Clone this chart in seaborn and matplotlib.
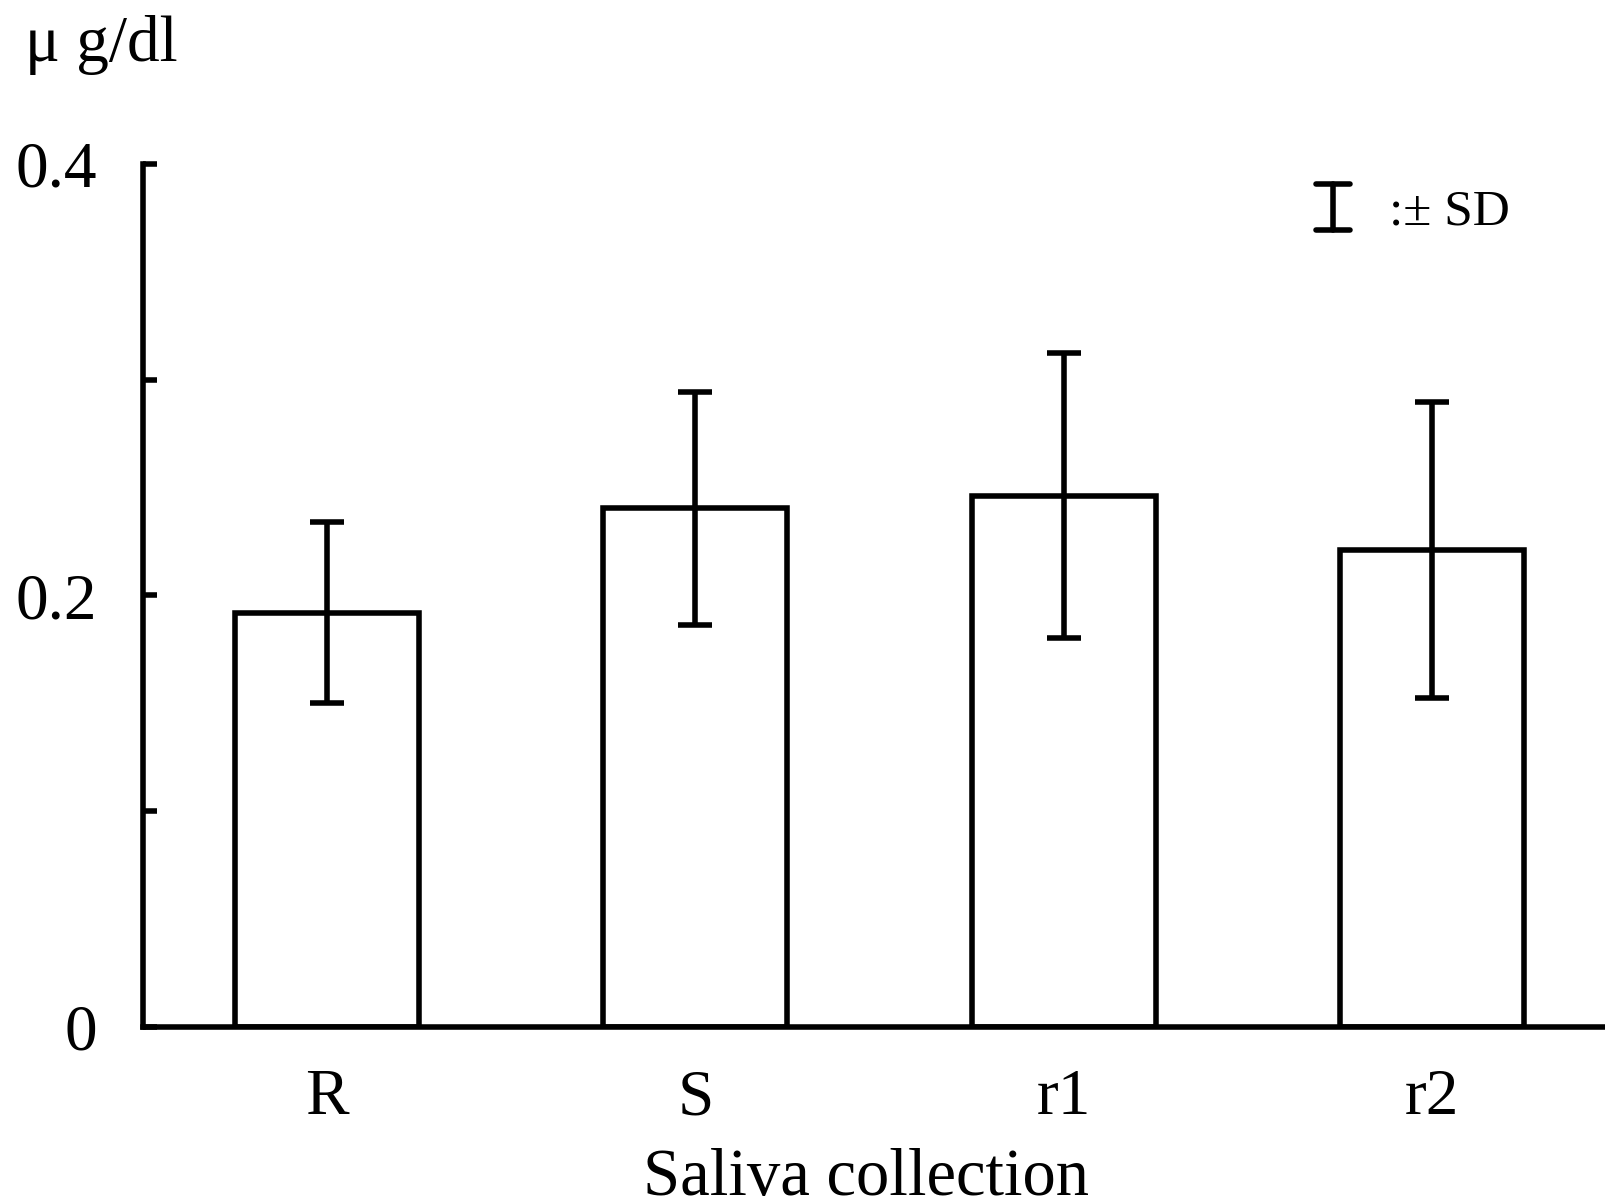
import matplotlib
matplotlib.use("Agg")
import matplotlib.pyplot as plt
import seaborn as sns
import pandas as pd

categories = ["R", "S", "r1", "r2"]
means = [0.192, 0.2405, 0.2462, 0.2209]
sds = [0.042, 0.054, 0.066, 0.0686]
ytick_values = [0, 0.1, 0.2, 0.3, 0.4]
ytick_labels = ["0", "", "0.2", "", "0.4"]

sns.set_theme(style="white")
plt.rcParams['font.family'] = ['Liberation Serif', 'DejaVu Serif']

LW = 4.0

df = pd.DataFrame({"cat": categories, "mean": means, "sd": sds})

fig = plt.figure(figsize=(16.05, 12.03), dpi=100)
ax = fig.add_axes([0.0891, 0.1463, 1 - 0.0891, 0.8637 - 0.1463])

sns.barplot(data=df, x="cat", y="mean", color="white", edgecolor="black",
            linewidth=LW, width=0.5, saturation=1, errorbar=None, ax=ax)
ax.errorbar(range(len(categories)), df["mean"], yerr=df["sd"], fmt="none",
            ecolor="black", elinewidth=LW, capsize=12, capthick=LW, zorder=5)

ax.set_xlim(-0.5, 3.47)
ax.set_ylim(0, 0.4)
ax.set_yticks(ytick_values)
ax.set_yticklabels(ytick_labels)
ax.tick_params(axis="y", left=True, direction="in", length=10, width=LW,
               pad=33, labelsize=47, colors="black")
ax.tick_params(axis="x", bottom=False, length=0, pad=30, labelsize=47,
               colors="black")

for s in ["top", "right"]:
    ax.spines[s].set_visible(False)
for s in ["left", "bottom"]:
    ax.spines[s].set_linewidth(LW)
    ax.spines[s].set_color("black")
    ax.spines[s].set_capstyle("projecting")

ax.set_xlabel("Saliva collection", fontsize=48, color="black")
ax.xaxis.set_label_coords((866 - 143) / 1462, -(1148 - 1027) / 863)
ax.xaxis.label.set_va("top")
ax.set_ylabel("")
ax.patch.set_alpha(0)

fig.text(25 / 1605, 1 - 45 / 1203, "μ g/dl", fontsize=47, va="center",
         ha="left", color="black")

# legend symbol for SD
tr = ax.transAxes
x0 = (1333 - 143) / 1462
y_top = (1027 - 184) / 863
y_bot = (1027 - 230) / 863
hw = 17 / 1462
ax.plot([x0, x0], [y_bot, y_top], color="black", lw=LW, transform=tr,
        clip_on=False, solid_capstyle="round")
ax.plot([x0 - hw, x0 + hw], [y_top, y_top], color="black", lw=LW,
        transform=tr, clip_on=False, solid_capstyle="round")
ax.plot([x0 - hw, x0 + hw], [y_bot, y_bot], color="black", lw=LW,
        transform=tr, clip_on=False, solid_capstyle="round")
ax.text((1389 - 143) / 1462, (1027 - 212) / 863, ":± SD", transform=tr,
        fontsize=37, va="center", ha="left", color="black")

fig.savefig("out.png", dpi=100, facecolor="white")
